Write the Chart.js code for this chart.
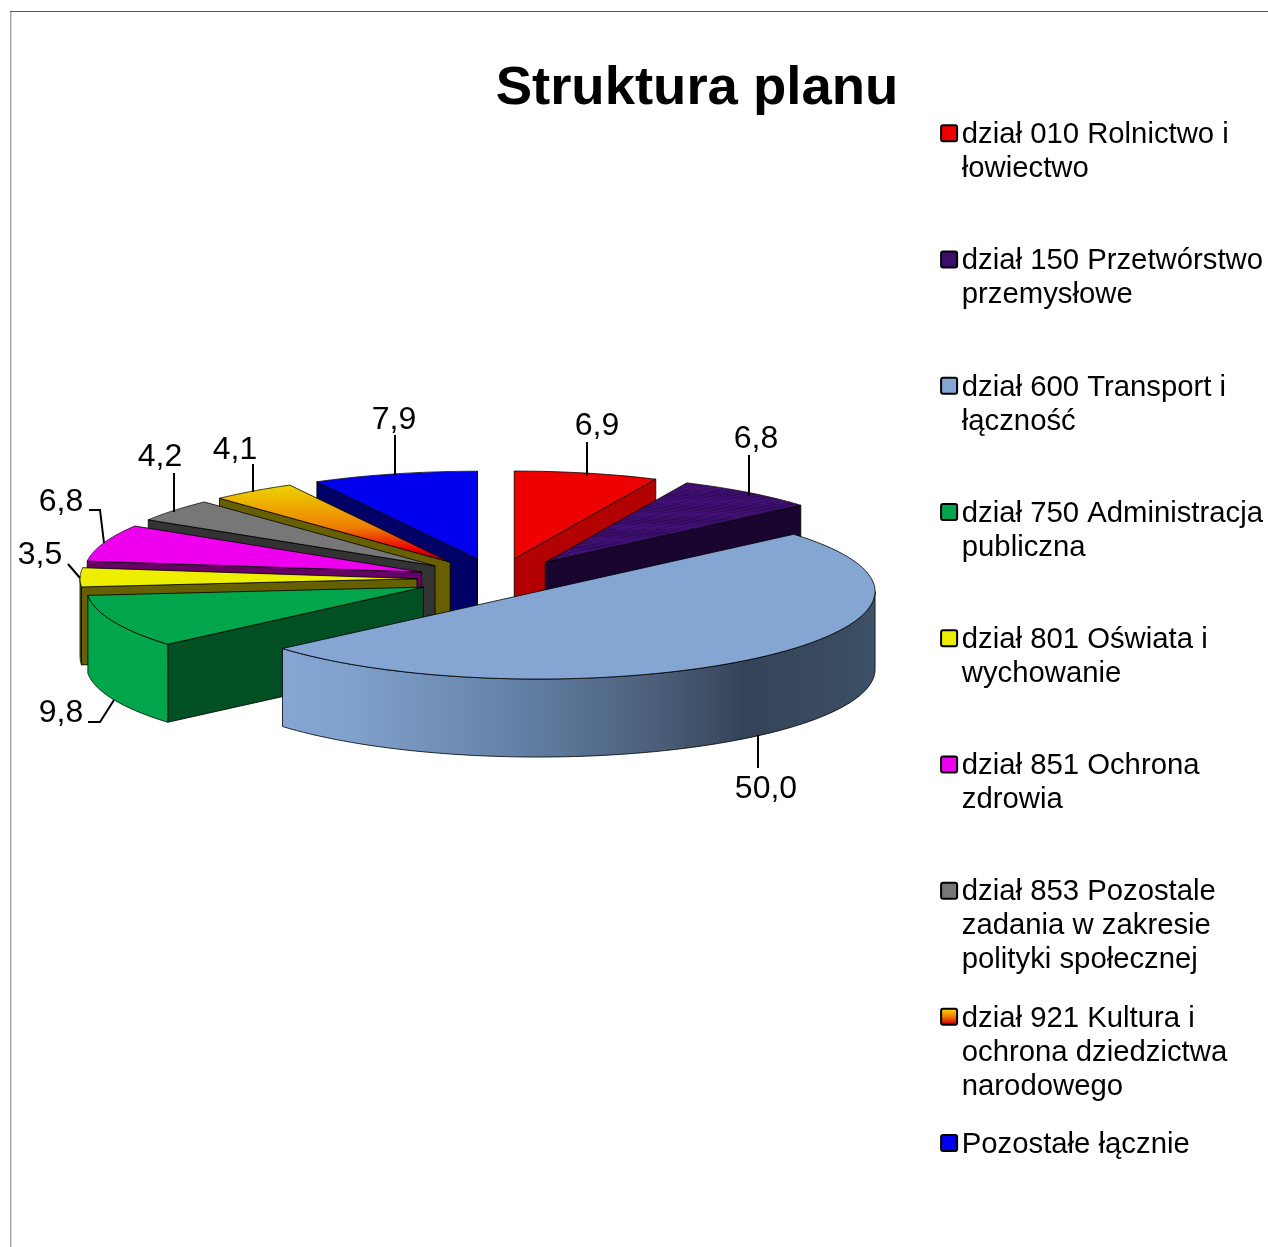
<!DOCTYPE html>
<html lang="pl">
<head>
<meta charset="utf-8">
<title>Struktura planu</title>
<script src="https://cdn.jsdelivr.net/npm/chart.js@4"></script>
<style>
  html, body { margin: 0; padding: 0; background: #fff; }
  canvas { display: block; }
</style>
</head>
<body>
<canvas id="pie" width="1268" height="1247"></canvas>
<script>
const TITLE = 'Struktura planu';
const CATEGORIES = [
  ['dział 010 Rolnictwo i', 'łowiectwo'],
  ['dział 150 Przetwórstwo', 'przemysłowe'],
  ['dział 600 Transport i', 'łączność'],
  ['dział 750 Administracja', 'publiczna'],
  ['dział 801 Oświata i', 'wychowanie'],
  ['dział 851 Ochrona', 'zdrowia'],
  ['dział 853 Pozostale', 'zadania w zakresie', 'polityki społecznej'],
  ['dział 921 Kultura i', 'ochrona dziedzictwa', 'narodowego'],
  ['Pozostałe łącznie'],
];
const VALUES = [6.9, 6.8, 50.0, 9.8, 3.5, 6.8, 4.2, 4.1, 7.9];

const FACE_COLORS = ['#ee0000', '#3a0f6a', '#85a6d3', '#00a54c', '#eeee00', '#ee00ee', '#777777', '#ee8000', '#0000ee'];
const CUT_COLORS = ['#b30000', '#1a0530', '#85a6d3', '#005024', '#666000', '#660066', '#333333', '#666000', '#000066'];
const WALL_COLORS = ['#b30000', '#1a0530', '#85a6d3', '#00a54c', '#666000', '#660066', '#333333', '#666000', '#000066'];

// pseudo 3D: the pie is squashed round this point and given a wall
const CENTER_X = 497;
const CENTER_Y = 579;
const TILT = 0.26;
const DEPTH = 78;
const RADIUS = 337;
const EXPLODE = [80, 80, 63, 80, 80, 80, 80, 80, 80];

// where each value label sits and its leader line, same order as VALUES
const LABEL_SPOTS = [
  { x: 597, y: 426, line: [[587, 442], [587, 476]] },
  { x: 756, y: 439, line: [[749, 455], [749, 496]] },
  { x: 766, y: 789, line: [[758, 735], [758, 768]] },
  { x: 61, y: 713, line: [[88, 722], [100, 722], [114, 700]] },
  { x: 40, y: 555, line: [[68, 564], [80, 578]] },
  { x: 61, y: 502, line: [[89, 510], [100, 510], [104, 543]] },
  { x: 160, y: 457, line: [[174, 473], [174, 512]] },
  { x: 235, y: 450, line: [[253, 464], [253, 492]] },
  { x: 394, y: 420, line: [[395, 435], [395, 475]] },
];

const FONT = '"Liberation Sans", Arial, sans-serif';

function purplePattern(ctx) {
  const c = document.createElement('canvas');
  c.width = 48; c.height = 48;
  const g = c.getContext('2d');
  for (let y = 0; y < 48; y++) {
    for (let x = 0; x < 48; x++) {
      const n = Math.sin(x * 0.9 + y * 2.3) + Math.sin(x * 0.37 - y * 1.1) + Math.sin(y * 3.1);
      g.fillStyle = `rgb(${58 + n * 7},${14 + n * 3},${106 + n * 11})`;
      g.fillRect(x, y, 1, 1);
    }
  }
  return ctx.createPattern(c, 'repeat');
}

function areaCenter(chart) {
  const a = chart.chartArea;
  return { x: (a.left + a.right) / 2, y: (a.top + a.bottom) / 2 };
}

function orangeFill(ctx, cy) {
  // gradient runs down the screen, so take screen rows back into unsquashed space
  const toY = y => (y - CENTER_Y) / TILT + cy;
  const grad = ctx.createLinearGradient(0, toY(487), 0, toY(560));
  grad.addColorStop(0, '#ecd000');
  grad.addColorStop(0.55, '#ee8000');
  grad.addColorStop(0.85, '#ee0000');
  grad.addColorStop(1, '#9c0000');
  return grad;
}

function wallFill(ctx) {
  const grad = ctx.createLinearGradient(285, 0, 875, 0);
  grad.addColorStop(0, '#85a6d3');
  grad.addColorStop(0.1, '#81a2cd');
  grad.addColorStop(0.38, '#6483a8');
  grad.addColorStop(0.62, '#4c607c');
  grad.addColorStop(0.78, '#344358');
  grad.addColorStop(0.96, '#3b4d63');
  grad.addColorStop(1, '#3f5169');
  return grad;
}

let purple = null;
function faceFill(c) {
  const { chart, dataIndex } = c;
  if (dataIndex === 1) return purple || (purple = purplePattern(chart.ctx));
  if (dataIndex === 7 && chart.chartArea) return orangeFill(chart.ctx, areaCenter(chart).y);
  return FACE_COLORS[dataIndex];
}

// tip of a slice on the screen
function sliceTip(chart, el) {
  const c = areaCenter(chart);
  return { x: CENTER_X + (el.x - c.x), y: CENTER_Y + (el.y - c.y) * TILT };
}

function rimPoint(tip, angle, r) {
  return [tip.x + Math.cos(angle) * r, tip.y + Math.sin(angle) * r * TILT];
}

function drawQuad(ctx, pts, fill) {
  ctx.beginPath();
  pts.forEach((p, i) => (i ? ctx.lineTo(p[0], p[1]) : ctx.moveTo(p[0], p[1])));
  ctx.closePath();
  ctx.fillStyle = fill;
  ctx.fill();
  ctx.strokeStyle = '#000';
  ctx.lineWidth = 0.8;
  ctx.stroke();
}

function drawCut(ctx, tip, angle, r, fill) {
  const rim = rimPoint(tip, angle, r);
  drawQuad(ctx, [[tip.x, tip.y], rim, [rim[0], rim[1] + DEPTH], [tip.x, tip.y + DEPTH]], fill);
}

function drawSides(chart, el, index) {
  const ctx = chart.ctx;
  const tip = sliceTip(chart, el);
  const r = el.outerRadius;
  const s = el.startAngle;
  const e = el.endAngle;
  if (Math.cos(s) < 0) drawCut(ctx, tip, s, r, CUT_COLORS[index]);
  if (Math.cos(e) > 0) drawCut(ctx, tip, e, r, CUT_COLORS[index]);
  const from = Math.max(s, 0);
  const to = Math.min(e, Math.PI);
  if (to > from) {
    const top = [];
    const bottom = [];
    for (let i = 0; i <= 80; i++) {
      const p = rimPoint(tip, from + (to - from) * i / 80, r);
      top.push(p);
      bottom.unshift([p[0], p[1] + DEPTH]);
    }
    drawQuad(ctx, top.concat(bottom), index === 2 ? wallFill(ctx) : WALL_COLORS[index]);
  }
}

function outlineFace(chart, el) {
  const ctx = chart.ctx;
  const tip = sliceTip(chart, el);
  ctx.beginPath();
  ctx.moveTo(tip.x, tip.y);
  for (let i = 0; i <= 80; i++) {
    const p = rimPoint(tip, el.startAngle + (el.endAngle - el.startAngle) * i / 80, el.outerRadius);
    ctx.lineTo(p[0], p[1]);
  }
  ctx.closePath();
  ctx.strokeStyle = '#000';
  ctx.lineWidth = 0.8;
  ctx.stroke();
}

const pie3d = {
  id: 'pie3d',
  afterDatasetsUpdate(chart) {
    // the built-in offset also widens and narrows arcs, so pull the slices apart here
    const c = areaCenter(chart);
    chart.getDatasetMeta(0).data.forEach((el, i) => {
      const mid = (el.startAngle + el.endAngle) / 2;
      el.x = c.x + Math.cos(mid) * EXPLODE[i];
      el.y = c.y + Math.sin(mid) * EXPLODE[i];
    });
  },
  beforeDraw(chart) {
    const ctx = chart.ctx;
    ctx.save();
    ctx.fillStyle = '#aaaaaa';
    ctx.fillRect(10, 12, 1.5, chart.height - 12);
    ctx.fillStyle = '#555555';
    ctx.fillRect(10, 11, chart.width - 10, 1);
    ctx.restore();
  },
  beforeDatasetsDraw(chart) {
    const ctx = chart.ctx;
    const arcs = chart.getDatasetMeta(0).data;
    const order = arcs.map((el, i) => ({ el, i })).sort((a, b) => a.el.y - b.el.y);
    ctx.save();
    order.forEach(o => drawSides(chart, o.el, o.i));
    ctx.restore();
    // tops are drawn by the arc elements themselves, squashed
    const c = areaCenter(chart);
    ctx.save();
    ctx.translate(CENTER_X, CENTER_Y);
    ctx.scale(1, TILT);
    ctx.translate(-c.x, -c.y);
  },
  afterDatasetsDraw(chart) {
    chart.ctx.restore();
    chart.getDatasetMeta(0).data.forEach(el => outlineFace(chart, el));
  },
  afterDraw(chart) {
    const ctx = chart.ctx;
    ctx.save();
    // value labels and leaders
    ctx.font = `32px ${FONT}`;
    ctx.textAlign = 'center';
    ctx.textBaseline = 'middle';
    VALUES.forEach((v, i) => {
      const spot = LABEL_SPOTS[i];
      ctx.fillStyle = '#000';
      ctx.fillText(v.toFixed(1).replace('.', ','), spot.x, spot.y);
      ctx.beginPath();
      spot.line.forEach((p, j) => (j ? ctx.lineTo(p[0], p[1]) : ctx.moveTo(p[0], p[1])));
      ctx.strokeStyle = '#000';
      ctx.lineWidth = 2;
      ctx.stroke();
    });
    // legend swatches, the legend's own box sits too far from the text
    chart.legend.legendHitBoxes.forEach((box, i) => {
      const x = box.left - 6;
      const y = box.top + 5;
      let fill = FACE_COLORS[i];
      if (i === 7) {
        fill = ctx.createLinearGradient(0, y, 0, y + 15);
        fill.addColorStop(0, '#ffd000');
        fill.addColorStop(0.5, '#f08000');
        fill.addColorStop(1, '#d00000');
      }
      ctx.beginPath();
      ctx.roundRect(x, y, 16, 16, 2);
      ctx.fillStyle = fill;
      ctx.fill();
      ctx.strokeStyle = '#000';
      ctx.lineWidth = 2;
      ctx.stroke();
    });
    ctx.restore();
  },
};

new Chart(document.getElementById('pie'), {
  type: 'pie',
  plugins: [pie3d],
  data: {
    labels: CATEGORIES.map(c => c.join(' ')),
    datasets: [{
      data: VALUES,
      backgroundColor: faceFill,
      borderWidth: 0,
      radius: RADIUS,
      clip: false,
    }],
  },
  options: {
    responsive: false,
    animation: false,
    events: [],
    layout: { padding: { left: 121, right: -5, top: 0, bottom: 0 } },
    plugins: {
      tooltip: { enabled: false },
      title: {
        display: true,
        text: TITLE,
        color: '#000',
        font: { family: FONT, size: 54.5, weight: 'bold', lineHeight: 1 },
        padding: { top: 62, bottom: -20.4 },
      },
      legend: {
        position: 'right',
        align: 'start',
        fullSize: false,
        labels: {
          boxWidth: 0,
          padding: 24.25,
          color: '#000',
          font: { family: FONT, size: 29.3, lineHeight: 1.16 },
          generateLabels: () => CATEGORIES.map((lines, i) => ({
            // blank lines keep every entry the same height, last one has to fit
            text: i < CATEGORIES.length - 1 ? lines.concat(['', '']).slice(0, 3) : lines,
            hidden: false,
            index: i,
          })),
        },
      },
    },
  },
});
</script>
</body>
</html>
